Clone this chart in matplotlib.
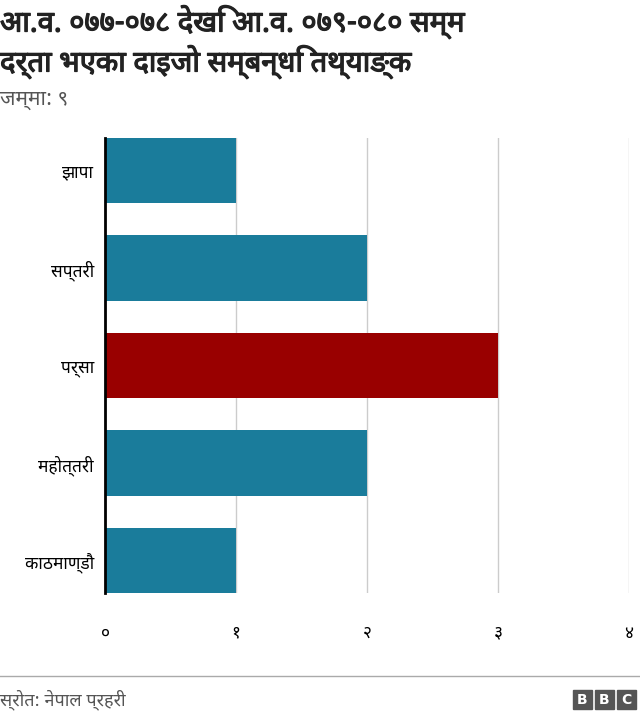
import matplotlib
matplotlib.use("Agg")
import matplotlib.pyplot as plt
import matplotlib.patheffects as pe
from matplotlib.patches import Rectangle

plt.rcParams['font.family'] = ['Noto Sans Devanagari', 'Noto Sans', 'DejaVu Sans']

districts = ['झापा', 'सप्तरी', 'पर्सा', 'महोत्तरी', 'काठमाण्डौ']
cases = [1, 2, 3, 2, 1]
colors = ['#1a7c9b', '#1a7c9b', '#990000', '#1a7c9b', '#1a7c9b']
tick_vals = [0, 1, 2, 3, 4]
tick_labels = ['०', '१', '२', '३', '४']

fig = plt.figure(figsize=(6.4, 7.22), dpi=100)
W, H = 640, 722
ax = fig.add_axes([105 / W, 1 - 593 / H, (629 - 105) / W, (593 - 138) / H])

y = list(range(len(districts)))
ax.barh(y, cases, color=colors, height=0.67, zorder=2)
ax.set_ylim(len(districts) - 0.67, -0.33)
ax.set_xlim(0, 4)
ax.set_yticks(y)
ax.set_yticklabels(districts, fontsize=12.5)
ax.set_xticks(tick_vals)
ax.set_xticklabels(tick_labels, fontsize=12.5)
ax.tick_params(length=0, pad=8)
ax.tick_params(axis='x', pad=22)
ax.grid(axis='x', color='#cccccc', lw=1, zorder=0)
for s in ['top', 'right', 'bottom']:
    ax.spines[s].set_visible(False)
ax.spines['left'].set_linewidth(2)
ax.spines['left'].set_zorder(3)

bold = [pe.withStroke(linewidth=0.9, foreground='#222222')]
fig.text(0.0, 1 - 22 / H, 'आ.व. ०७७-०७८ देखि आ.व. ०७९-०८० सम्म', fontsize=21,
         fontweight='bold', va='center', ha='left', color='#222222', path_effects=bold)
fig.text(0.0, 1 - 62 / H, 'दर्ता भएका दाइजो सम्बन्धि तथ्याङ्क', fontsize=21,
         fontweight='bold', va='center', ha='left', color='#222222', path_effects=bold)
fig.text(0.0, 1 - 100 / H, 'जम्मा: ९', fontsize=15, color='#555555', va='center', ha='left')

fig.add_artist(plt.Line2D([0, 1], [1 - 676 / H] * 2, color='#aaaaaa', lw=1))
fig.text(0.0, 1 - 700 / H, 'स्रोत: नेपाल प्रहरी', fontsize=13, color='#555555', va='center', ha='left')

for i, ch in enumerate('BBC'):
    x0 = 573 + i * 22
    fig.add_artist(Rectangle((x0 / W, 1 - 709 / H), 19 / W, 19 / H, color='#555555'))
    fig.text((x0 + 9.5) / W, 1 - 699.5 / H, ch, color='white', fontsize=10,
             fontweight='bold', ha='center', va='center', family='DejaVu Sans')

fig.savefig('out.png', dpi=100)
